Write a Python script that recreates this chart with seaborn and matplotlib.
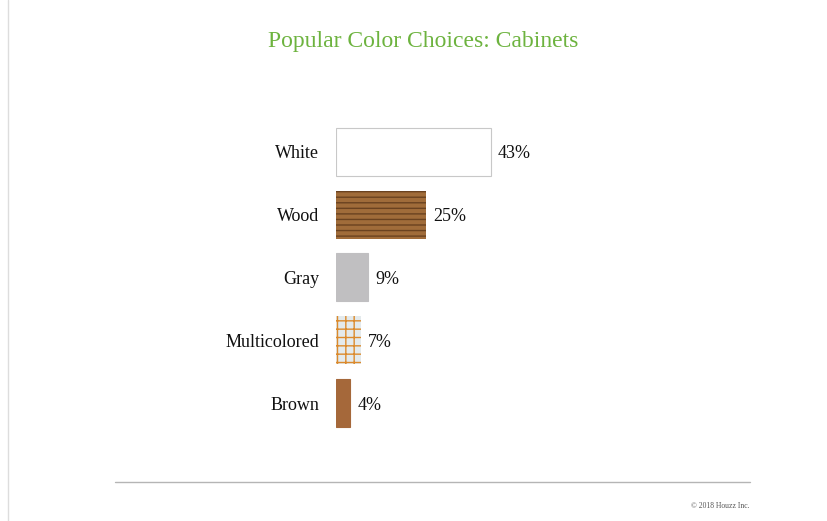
import numpy as np
import pandas as pd
import seaborn as sns
import matplotlib.pyplot as plt
from matplotlib.lines import Line2D

# values
colors_chosen = ['White', 'Wood', 'Gray', 'Multicolored', 'Brown']
share = [43, 25, 9, 7, 4]
bar_fill = ['#ffffff', '#a06c3a', '#c0bfc1', '#e4eaec', '#a5683a']
bar_edge = ['#c8c8c8', '#6a4220', '#c0bfc1', '#dc8a2c', '#a5683a']
bar_hatch = [None, '---', None, '++', None]

df = pd.DataFrame({'color': colors_chosen, 'share': share})

sns.set_style('white')
plt.rcParams['font.family'] = ['Liberation Serif', 'DejaVu Serif']
plt.rcParams['hatch.linewidth'] = 1.0

fig = plt.figure(figsize=(8.28, 5.21), dpi=100)
ax = fig.add_axes([0.4058, 0.1662, 0.2174, 0.6027])

sns.barplot(data=df, y='color', x='share', hue='color',
            palette=dict(zip(colors_chosen, bar_fill)), legend=False,
            width=0.765, orient='h', ax=ax, saturation=1)

for bar, ec, h in zip(ax.patches, bar_edge, bar_hatch):
    bar.set_edgecolor(ec)
    bar.set_linewidth(0.8)
    if h:
        bar.set_hatch(h)
        bar.set_linewidth(0)

for i, v in enumerate(share):
    ax.text(v + 1.9, i, f'{v}%', va='center_baseline', ha='left', fontsize=13,
            color='#111111')

ax.set_xlim(0, 50)
ax.set_ylim(4.5, -0.5)
ax.set_xlabel('')
ax.set_ylabel('')
ax.set_xticks([])
ax.tick_params(axis='y', length=0, pad=12, labelsize=13, labelcolor='#111111')
sns.despine(ax=ax, left=True, bottom=True)

fig.text(0.511, 0.921, 'Popular Color Choices: Cabinets', ha='center', va='center',
         fontsize=17, color='#6db33f')
fig.add_artist(Line2D([115 / 828, 750 / 828], [1 - 482 / 521, 1 - 482 / 521],
                      color='#b5b5b5', lw=1))
fig.add_artist(Line2D([8 / 828, 8 / 828], [0, 1], color='#dddddd', lw=1))
fig.text(720 / 828, 1 - 506 / 521, '\u00a9 2018 Houzz Inc.', ha='center', va='center',
         fontsize=5.5, color='#555555')

fig.savefig('out.png', dpi=100)
